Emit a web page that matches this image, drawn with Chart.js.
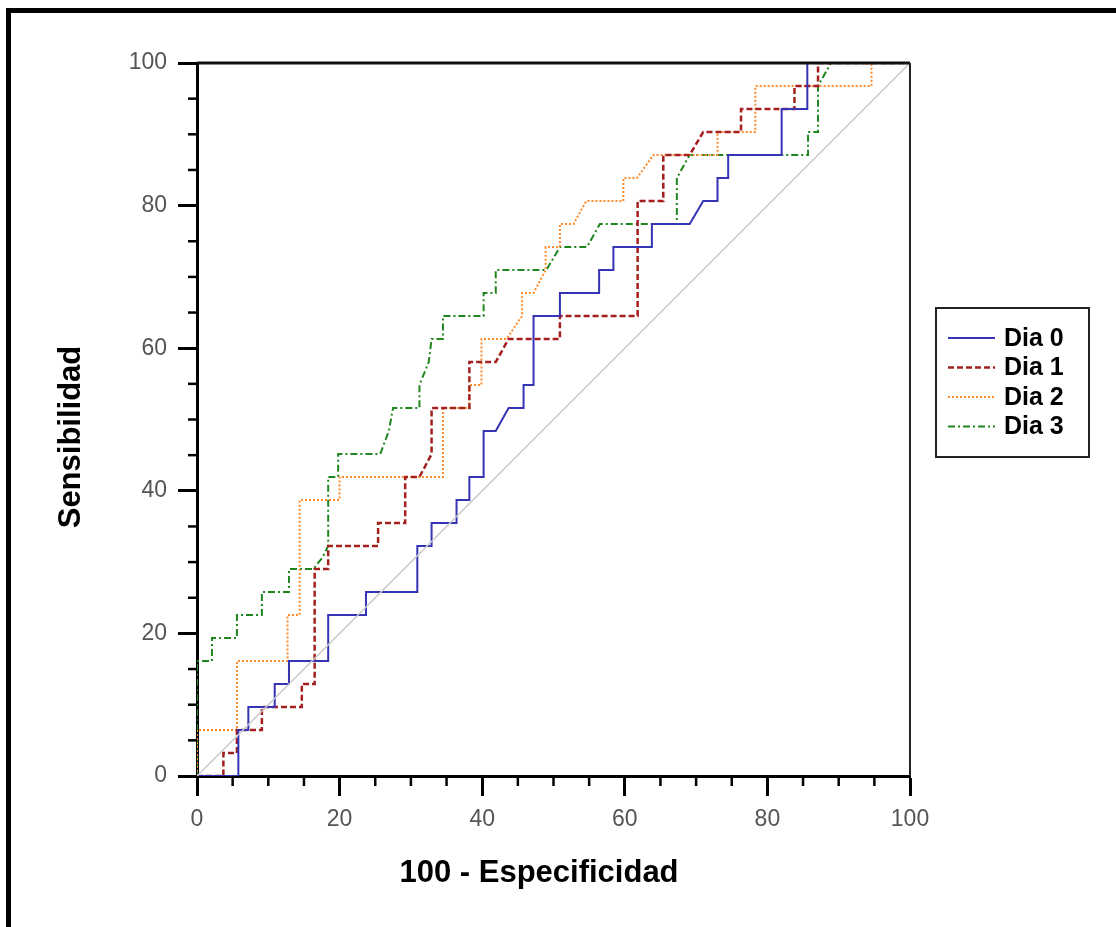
<!DOCTYPE html>
<html>
<head>
<meta charset="utf-8">
<script src="https://cdn.jsdelivr.net/npm/chart.js@4/dist/chart.umd.min.js"></script>
<style>
  html, body { margin: 0; padding: 0; background: #fff; overflow: hidden; }
  #wrap { position: absolute; left: 0; top: 0; width: 1116px; height: 927px; }
  #frame { position: absolute; left: 6px; top: 8px; width: 1200px; height: 1000px;
           border-top: 5px solid #000; border-left: 5px solid #000; }
  canvas { position: absolute; left: 0; top: 0; }
</style>
</head>
<body>
<div id="wrap">
  <div id="frame"></div>
  <canvas id="roc" width="1116" height="927"></canvas>
</div>
<script>
// ROC curves: 100 - specificity (x) vs sensitivity (y), one step curve per day
const seriesLabels = ['Dia 0', 'Dia 1', 'Dia 2', 'Dia 3'];

const dia0X = [0, 5.8, 5.8, 7.2, 7.2, 10.9, 10.9, 12.9, 12.9, 18.4, 18.4, 23.7, 23.7, 30.9, 30.9, 32.9, 32.9, 36.4, 36.4, 38.2, 38.2, 40.2, 40.2, 41.9, 43.7, 45.8, 45.8, 47.2, 47.2, 50.9, 50.9, 56.4, 56.4, 58.4, 58.4, 63.8, 63.8, 69.1, 71.0, 73.0, 73.0, 74.5, 74.5, 82.0, 82.0, 85.6, 85.6, 100];
const dia0Y = [0, 0, 6.45, 6.45, 9.68, 9.68, 12.9, 12.9, 16.13, 16.13, 22.58, 22.58, 25.81, 25.81, 32.26, 32.26, 35.48, 35.48, 38.71, 38.71, 41.94, 41.94, 48.39, 48.39, 51.61, 51.61, 54.84, 54.84, 64.52, 64.52, 67.74, 67.74, 70.97, 70.97, 74.19, 74.19, 77.42, 77.42, 80.65, 80.65, 83.87, 83.87, 87.1, 87.1, 93.55, 93.55, 100, 100];

const dia1X = [0, 3.7, 3.7, 5.6, 5.6, 9.1, 9.1, 14.7, 14.7, 16.5, 16.5, 18.4, 18.4, 25.4, 25.4, 29.2, 29.2, 31.2, 32.9, 32.9, 38.2, 38.2, 41.9, 43.7, 50.9, 50.9, 61.8, 61.8, 65.4, 65.4, 69.1, 71.0, 76.3, 76.3, 83.8, 83.8, 87.1, 87.1, 100];
const dia1Y = [0, 0, 3.23, 3.23, 6.45, 6.45, 9.68, 9.68, 12.9, 12.9, 29.03, 29.03, 32.26, 32.26, 35.48, 35.48, 41.94, 41.94, 45.16, 51.61, 51.61, 58.06, 58.06, 61.29, 61.29, 64.52, 64.52, 80.65, 80.65, 87.1, 87.1, 90.32, 90.32, 93.55, 93.55, 96.77, 96.77, 100, 100];

const dia2X = [0, 0, 5.6, 5.6, 12.7, 12.7, 14.4, 14.4, 20.0, 20.0, 34.5, 34.5, 38.2, 38.2, 39.9, 39.9, 43.4, 45.6, 45.6, 47.2, 48.9, 48.9, 50.9, 50.9, 52.8, 54.6, 59.8, 59.8, 61.7, 64.0, 73.0, 73.0, 78.3, 78.3, 94.6, 94.6, 100];
const dia2Y = [0, 6.45, 6.45, 16.13, 16.13, 22.58, 22.58, 38.71, 38.71, 41.94, 41.94, 51.61, 51.61, 54.84, 54.84, 61.29, 61.29, 64.52, 67.74, 67.74, 70.97, 74.19, 74.19, 77.42, 77.42, 80.65, 80.65, 83.87, 83.87, 87.1, 87.1, 90.32, 90.32, 96.77, 96.77, 100, 100];

const dia3X = [0, 0, 2.1, 2.1, 5.6, 5.6, 9.1, 9.1, 12.9, 12.9, 16.3, 17.6, 18.4, 18.4, 19.8, 19.8, 25.7, 26.9, 27.5, 31.2, 31.2, 32.5, 32.9, 34.5, 34.5, 40.2, 40.2, 41.9, 41.9, 49.0, 50.9, 54.7, 56.5, 67.3, 67.3, 69.1, 85.7, 85.7, 87.1, 87.1, 88.9, 100];
const dia3Y = [0, 16.13, 16.13, 19.35, 19.35, 22.58, 22.58, 25.81, 25.81, 29.03, 29.03, 30.65, 32.26, 41.94, 41.94, 45.16, 45.16, 48.39, 51.61, 51.61, 54.84, 58.06, 61.29, 61.29, 64.52, 64.52, 67.74, 67.74, 70.97, 70.97, 74.19, 74.19, 77.42, 77.42, 83.87, 87.1, 87.1, 90.32, 90.32, 96.77, 100, 100];

// chance line
const refX = [0, 100];
const refY = [0, 100];

const axisTicks = [0, 20, 40, 60, 80, 100];
const minorTicks = [5, 10, 15, 25, 30, 35, 45, 50, 55, 65, 70, 75, 85, 90, 95];
const xTitle = '100 - Especificidad';
const yTitle = 'Sensibilidad';

const FONT = '"Liberation Sans", Arial, Helvetica, sans-serif';

function pts(xs, ys) { return xs.map((x, i) => ({ x: x, y: ys[i] })); }

const styles = [
  { color: '#3434b4', width: 2, dash: [] },
  { color: '#a3201f', width: 2.5, dash: [6, 3] },
  { color: '#ff8a2a', width: 2, dash: [2, 2] },
  { color: '#1f861f', width: 2, dash: [7, 3, 2, 3] }
];
const curves = [[dia0X, dia0Y], [dia1X, dia1Y], [dia2X, dia2Y], [dia3X, dia3Y]];

const datasets = [{
  label: 'ref',
  data: pts(refX, refY),
  borderColor: '#c9c9c9',
  borderWidth: 1.5,
  inLegend: false
}];
curves.forEach((c, i) => {
  datasets.push({
    label: seriesLabels[i],
    data: pts(c[0], c[1]),
    borderColor: styles[i].color,
    borderWidth: styles[i].width,
    borderDash: styles[i].dash,
    inLegend: true
  });
});

// top/right frame of the plot box
const framePlugin = {
  id: 'plotFrame',
  afterDraw(chart) {
    const { ctx, chartArea: a } = chart;
    ctx.save();
    ctx.strokeStyle = '#111';
    ctx.lineWidth = 3;
    ctx.beginPath();
    ctx.moveTo(a.left, a.top);
    ctx.lineTo(a.right, a.top);
    ctx.stroke();
    ctx.lineWidth = 2;
    ctx.strokeStyle = '#222';
    ctx.beginPath();
    ctx.moveTo(a.right, a.top);
    ctx.lineTo(a.right, a.bottom);
    ctx.stroke();
    ctx.restore();
  }
};

// short minor ticks between the labelled ones
const minorTickPlugin = {
  id: 'minorTicks',
  afterDraw(chart) {
    const { ctx, scales } = chart;
    const xs = scales.x, ys = scales.y;
    ctx.save();
    ctx.strokeStyle = '#000';
    ctx.lineWidth = 2.5;
    minorTicks.forEach(v => {
      const py = ys.getPixelForValue(v);
      ctx.beginPath();
      ctx.moveTo(ys.right - 9, py);
      ctx.lineTo(ys.right, py);
      ctx.stroke();
      const px = xs.getPixelForValue(v);
      ctx.beginPath();
      ctx.moveTo(px, xs.top);
      ctx.lineTo(px, xs.top + 10);
      ctx.stroke();
    });
    ctx.restore();
  }
};

// axis titles
const titlePlugin = {
  id: 'axisTitles',
  afterDraw(chart) {
    const { ctx } = chart;
    ctx.save();
    ctx.fillStyle = '#000';
    ctx.font = 'bold 31px ' + FONT;
    ctx.textAlign = 'center';
    ctx.textBaseline = 'middle';
    ctx.fillText(xTitle, 539, 873);
    ctx.translate(71, 437);
    ctx.rotate(-Math.PI / 2);
    ctx.fillText(yTitle, 0, 0);
    ctx.restore();
  }
};

// boxed legend on the right
const legendPlugin = {
  id: 'boxLegend',
  afterDraw(chart) {
    const { ctx } = chart;
    const items = chart.data.datasets.filter(d => d.inLegend);
    const box = { x: 936, y: 308, w: 153, h: 149 };
    ctx.save();
    ctx.strokeStyle = '#222';
    ctx.lineWidth = 2;
    ctx.strokeRect(box.x, box.y, box.w, box.h);
    items.forEach((d, i) => {
      const cy = box.y + 30 + i * 29.5;
      ctx.strokeStyle = d.borderColor;
      ctx.lineWidth = d.borderWidth;
      ctx.setLineDash(d.borderDash || []);
      ctx.beginPath();
      ctx.moveTo(box.x + 12, cy);
      ctx.lineTo(box.x + 59, cy);
      ctx.stroke();
      ctx.setLineDash([]);
      ctx.fillStyle = '#000';
      ctx.font = 'bold 25px ' + FONT;
      ctx.textAlign = 'left';
      ctx.textBaseline = 'middle';
      ctx.fillText(d.label, box.x + 68, cy + 1);
    });
    ctx.restore();
  }
};

new Chart(document.getElementById('roc'), {
  type: 'line',
  data: { datasets: datasets },
  options: {
    responsive: false,
    animation: false,
    events: [],
    layout: { padding: { left: 0, right: 206, top: 63, bottom: 0 } },
    elements: { point: { radius: 0 }, line: { tension: 0, fill: false } },
    plugins: { legend: { display: false }, tooltip: { enabled: false } },
    scales: {
      x: {
        type: 'linear', min: 0, max: 100,
        afterFit(s) { s.height = 151; },
        afterBuildTicks(s) { s.ticks = axisTicks.map(v => ({ value: v })); },
        ticks: { color: '#555', font: { family: FONT, size: 23 }, padding: 10, maxRotation: 0 },
        grid: { drawOnChartArea: false, tickLength: 20, tickWidth: 3, tickColor: '#000' },
        border: { color: '#000', width: 3 }
      },
      y: {
        type: 'linear', min: 0, max: 100,
        afterFit(s) { s.width = 197; },
        afterBuildTicks(s) { s.ticks = axisTicks.map(v => ({ value: v })); },
        ticks: { color: '#555', font: { family: FONT, size: 23 }, padding: 11 },
        grid: { drawOnChartArea: false, tickLength: 19, tickWidth: 3, tickColor: '#000' },
        border: { color: '#000', width: 3 }
      }
    }
  },
  plugins: [framePlugin, minorTickPlugin, titlePlugin, legendPlugin]
});
</script>
</body>
</html>
